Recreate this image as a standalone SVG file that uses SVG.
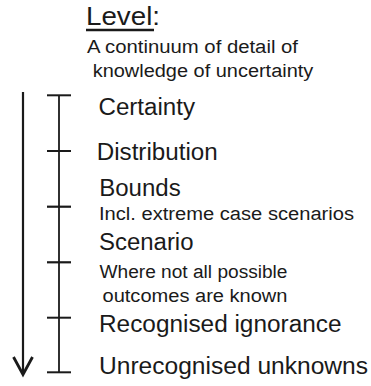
<svg xmlns="http://www.w3.org/2000/svg" width="371" height="386" viewBox="0 0 371 386">
<style>
text{font-family:"Liberation Sans",Arial,sans-serif;fill:#1a1a1a}
.big{font-size:23px}
.small{font-size:18px}
.title{font-size:26px}
.ln{stroke:#1a1a1a;fill:none}
</style>
<rect width="371" height="386" fill="#fff"/>
<g id="title">
<text class="title" x="86" y="25" textLength="74" lengthAdjust="spacingAndGlyphs">Level:</text>
<line class="ln" x1="86" y1="30" x2="154" y2="30" stroke-width="2.5"/>
<text class="small" x="87" y="52.5" textLength="211" lengthAdjust="spacingAndGlyphs">A continuum of detail of</text>
<text class="small" x="92.7" y="77" textLength="220.6" lengthAdjust="spacingAndGlyphs">knowledge of uncertainty</text>
</g>
<g id="connectors">
<line class="ln" x1="23" y1="92" x2="23" y2="374" stroke-width="2.2"/>
<polyline class="ln" points="13.5,357 23,374.5 32.5,357" stroke-width="2.8" stroke-linejoin="miter"/>
<line class="ln" x1="59" y1="95" x2="59" y2="372" stroke-width="1.8"/>
<line class="ln" x1="47" y1="95.3" x2="71" y2="95.3" stroke-width="2"/>
<line class="ln" x1="47" y1="151" x2="71" y2="151" stroke-width="2"/>
<line class="ln" x1="47" y1="206.7" x2="71" y2="206.7" stroke-width="2.2"/>
<line class="ln" x1="47" y1="262.3" x2="71" y2="262.3" stroke-width="2.2"/>
<line class="ln" x1="47" y1="317.7" x2="71" y2="317.7" stroke-width="2"/>
<line class="ln" x1="47" y1="372.3" x2="71" y2="372.3" stroke-width="2"/>
</g>
<g id="certainty"><text class="big" x="98.5" y="114.5" textLength="96.5" lengthAdjust="spacingAndGlyphs">Certainty</text></g>
<g id="distribution"><text class="big" x="96.7" y="160.3" textLength="121" lengthAdjust="spacingAndGlyphs">Distribution</text></g>
<g id="bounds">
<text class="big" x="99.2" y="195.5" textLength="81.5" lengthAdjust="spacingAndGlyphs">Bounds</text>
<text class="small" x="99" y="219.5" textLength="255" lengthAdjust="spacingAndGlyphs">Incl. extreme case scenarios</text>
</g>
<g id="scenario">
<text class="big" x="99" y="249.5" textLength="94.5" lengthAdjust="spacingAndGlyphs">Scenario</text>
<text class="small" x="99.5" y="277.5" textLength="188" lengthAdjust="spacingAndGlyphs">Where not all possible</text>
<text class="small" x="102.5" y="302" textLength="185" lengthAdjust="spacingAndGlyphs">outcomes are known</text>
</g>
<g id="recognised-ignorance"><text class="big" x="99" y="331.5" textLength="242.5" lengthAdjust="spacingAndGlyphs">Recognised ignorance</text></g>
<g id="unrecognised-unknowns"><text class="big" x="99" y="373.5" textLength="269" lengthAdjust="spacingAndGlyphs">Unrecognised unknowns</text></g>
</svg>
